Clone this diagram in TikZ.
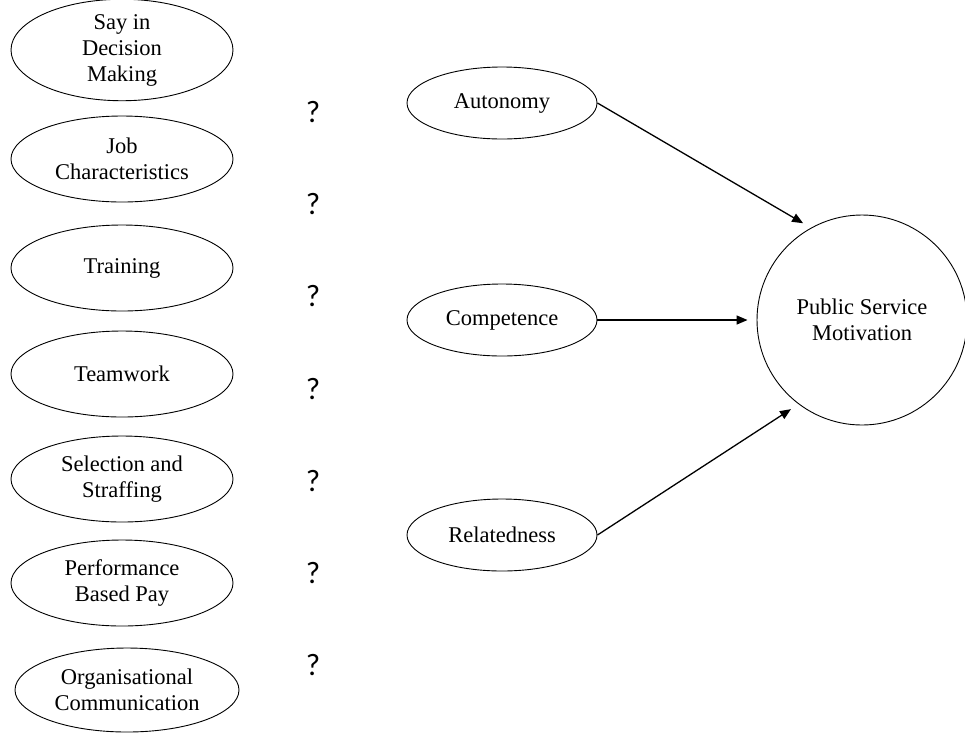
\documentclass[tikz,border=0pt]{standalone}
\usepackage{fontspec}
\setmainfont{Liberation Serif}
\newfontfamily\qfont{Carlito}
\usetikzlibrary{shapes.geometric,arrows.meta}
\begin{document}
\begin{tikzpicture}[x=1pt,y=-1pt,
  lbl/.style={font=\fontsize{22.5}{26}\selectfont,align=center,inner sep=0pt},
  factor/.style={ellipse,draw,line width=0.9pt,lbl,minimum width=222pt,minimum height=86pt},
  need/.style={ellipse,draw,line width=0.9pt,lbl,minimum width=190pt,minimum height=72pt},
  outcome/.style={circle,draw,line width=0.9pt,lbl,minimum size=210pt},
  qmark/.style={font=\qfont\fontsize{31}{32}\selectfont,inner sep=0pt},
  link/.style={line width=1.3pt,-{Triangle[length=11pt,width=9pt]},shorten >=9pt}]
\useasboundingbox (0,0) rectangle (965,732);

% HR practices
\node[factor] (say)  at (122,50)  {Say in\\Decision\\Making};
\node[factor] (job)  at (122,159) {Job\\Characteristics};
\node[factor] (trn)  at (122,268) {Training};
\node[factor] (team) at (122,374) {Teamwork};
\node[factor] (sel)  at (122,479) {Selection and\\Straffing};
\node[factor] (pay)  at (122,583) {Performance\\Based Pay};
\node[factor,minimum width=224pt,minimum height=84pt] (com) at (127,690) {Organisational\\Communication};

% unknown links
\node[qmark] (q1) at (313,112) {?};
\node[qmark] (q2) at (313,204) {?};
\node[qmark] (q3) at (313,296) {?};
\node[qmark] (q4) at (313,389) {?};
\node[qmark] (q5) at (313,481) {?};
\node[qmark] (q6) at (313,573) {?};
\node[qmark] (q7) at (313,665) {?};

% basic psychological needs
\node[need] (aut) at (502,103) {Autonomy};
\node[need] (cmp) at (502,320) {Competence};
\node[need] (rel) at (502,535) {Relatedness};

% outcome
\node[outcome] (psm) at (862,320) {Public Service\\Motivation};

\draw[link] (aut.east) -- (psm.119);
\draw[link] (cmp.east) -- (psm.west);
\draw[link] (rel.east) -- (psm.233);
\end{tikzpicture}
\end{document}
